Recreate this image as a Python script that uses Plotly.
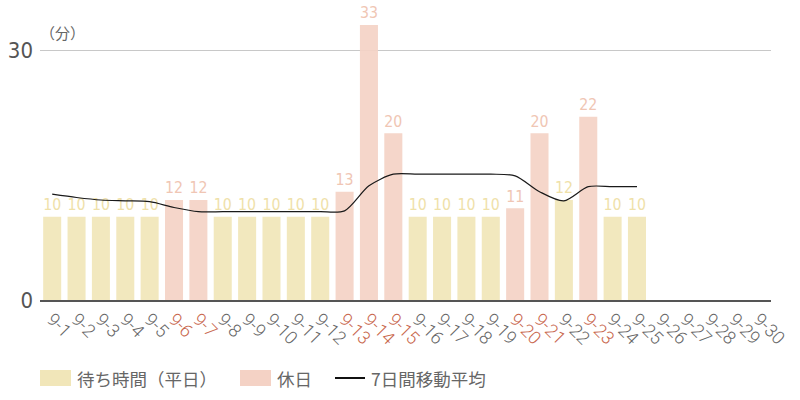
import plotly.graph_objects as go

days = [f"9-{d}" for d in range(1, 31)]
wait_times = [10, 10, 10, 10, 10, 12, 12, 10, 10, 10, 10, 10, 13, 33, 20,
              10, 10, 10, 10, 11, 20, 12, 22, 10, 10]
holidays = ["9-6", "9-7", "9-13", "9-14", "9-15", "9-20", "9-21", "9-23"]
moving_avg = [12.7, 12.3, 12.0, 11.9, 11.8, 11.1, 10.6, 10.6, 10.6, 10.6, 10.6, 10.6,
              10.7, 13.7, 15.1, 15.1, 15.1, 15.1, 15.1, 14.9, 13.0, 11.9, 13.6, 13.6, 13.6]
legend_names = ["待ち時間（平日）", "休日", "7日間移動平均"]

YELLOW = "#f1e6b9"
PINK = "#f4d2c5"
YELLOW_TXT = "#efe1a9"
PINK_TXT = "#f0c6b4"
RED = "#c8664c"
GRAY = "#555555"
NUMFONT = "DejaVu Sans Condensed, Liberation Sans Narrow, Roboto"

W, H = 800, 400
L, R, T, B = 40, 29, 20, 100
PW, PH = W - L - R, H - T - B


def px(x):
    return (x - L) / PW


def py(y):
    return (H - B - y) / PH


wk_y, hol_y, wk_t, hol_t = [], [], [], []
for d, v in zip(days, wait_times):
    if d in holidays:
        hol_y.append(v); wk_y.append(None); hol_t.append(str(v)); wk_t.append("")
    else:
        wk_y.append(v); hol_y.append(None); wk_t.append(str(v)); hol_t.append("")

fig = go.Figure()
fig.add_trace(go.Bar(
    x=days[:len(wait_times)], y=wk_y, name=legend_names[0],
    marker=dict(color=YELLOW, opacity=0.92, line=dict(width=0)),
    text=wk_t, textposition="outside", cliponaxis=False,
    textfont=dict(color=YELLOW_TXT, size=21, family=NUMFONT),
    width=0.74,
))
fig.add_trace(go.Bar(
    x=days[:len(wait_times)], y=hol_y, name=legend_names[1],
    marker=dict(color=PINK, opacity=0.92, line=dict(width=0)),
    text=hol_t, textposition="outside", cliponaxis=False,
    textfont=dict(color=PINK_TXT, size=21, family=NUMFONT),
    width=0.74,
))
fig.add_trace(go.Scatter(
    x=days[:len(moving_avg)], y=moving_avg, name=legend_names[2],
    mode="lines", line=dict(color="#1a1a1a", width=1.2, shape="spline", smoothing=0.8),
))

ticktext = [f"<span style='color:{RED}'>{d}</span>" if d in holidays else d for d in days]

shapes = [
    dict(type="rect", xref="paper", yref="paper", x0=px(40), x1=px(71), y0=py(386), y1=py(370),
         fillcolor=YELLOW, line=dict(width=0)),
    dict(type="rect", xref="paper", yref="paper", x0=px(240), x1=px(271), y0=py(386), y1=py(370),
         fillcolor=PINK, line=dict(width=0)),
    dict(type="line", xref="paper", yref="paper", x0=px(335), x1=px(365), y0=py(378), y1=py(378),
         line=dict(color="#111111", width=2)),
]
leg_font = dict(size=17.5, color="#666666", family="Noto Sans CJK JP")
annotations = [
    dict(text="（分）", xref="paper", x=px(38), xanchor="left", yref="paper", y=py(33),
         yanchor="middle", showarrow=False,
         font=dict(size=15, color="#666666", family="Noto Sans CJK JP")),
]
for name, xx in zip(legend_names, [75, 275, 369]):
    annotations.append(dict(text=name, xref="paper", x=px(xx), xanchor="left",
                            yref="paper", y=py(378), yanchor="middle", showarrow=False,
                            font=leg_font))

fig.update_layout(
    width=W, height=H,
    margin=dict(l=L, r=R, t=T, b=B),
    plot_bgcolor="white", paper_bgcolor="white",
    barmode="overlay",
    showlegend=False,
    font=dict(family="Roboto, Noto Sans CJK JP", color=GRAY),
    xaxis=dict(
        type="category", categoryorder="array", categoryarray=days,
        range=[-0.5, 29.5], automargin=False,
        tickmode="array", tickvals=days, ticktext=ticktext,
        tickangle=45, tickfont=dict(size=18, color="#666666", family="Roboto", weight=300),
        showline=True, linecolor="#555555", linewidth=1.5,
        showgrid=False, ticks="",
    ),
    yaxis=dict(
        range=[0, (H - B - T) / (250 / 30)], tickvals=[0, 30], ticktext=["0", "30"],
        automargin=False,
        tickfont=dict(size=22, color=GRAY, family=NUMFONT),
        showgrid=True, gridcolor="#c8c8c8", gridwidth=1,
        zeroline=False, showline=False, ticks="", ticklabelstandoff=6,
    ),
    shapes=shapes,
    annotations=annotations,
)

fig.write_html("out.html", config={"displayModeBar": False},
               post_script="document.body.style.margin='0';")
